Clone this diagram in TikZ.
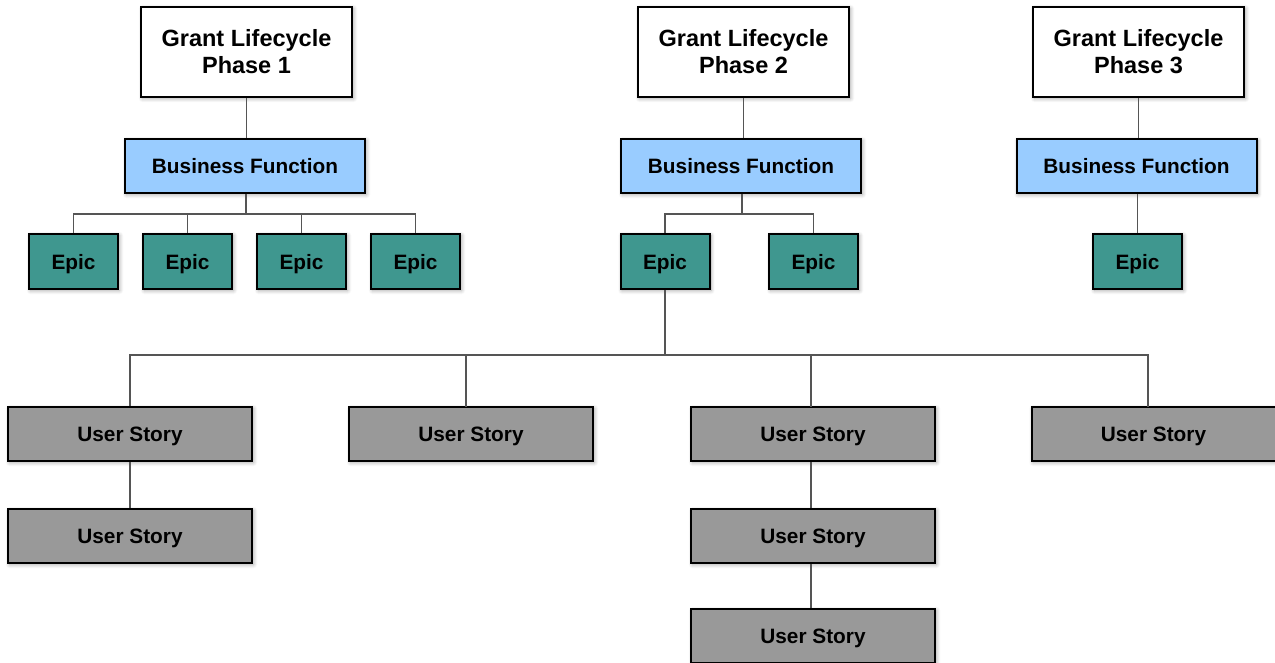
\documentclass[tikz,border=0pt]{standalone}
\usepackage{fontspec}
\setmainfont{Liberation Sans}
\usetikzlibrary{shadows.blur}
\definecolor{bfblue}{HTML}{99CCFF}
\definecolor{epicteal}{HTML}{3F978F}
\definecolor{storygray}{HTML}{999999}
\definecolor{linegray}{HTML}{555555}
\begin{document}
\begin{tikzpicture}[x=1pt,y=-1pt,
  box/.style={draw=black, line width=2pt, inner sep=0pt, align=center,
    font=\fontsize{20.8}{26}\selectfont\bfseries,
    blur shadow={shadow xshift=1.5pt, shadow yshift=-1.5pt, shadow blur radius=4pt, shadow blur steps=8, shadow opacity=35}},
  phasebox/.style={box, fill=white, minimum width=211pt, minimum height=90pt,
    font=\fontsize{23.5}{27}\selectfont\bfseries},
  onebox/.style={box, text depth=0pt},
  bfbox/.style={onebox, fill=bfblue, minimum width=240pt, minimum height=54pt},
  epicbox/.style={onebox, fill=epicteal, minimum width=89pt, minimum height=55pt},
  storybox/.style={onebox, fill=storygray, minimum width=244pt, minimum height=54pt},
  conn/.style={draw=linegray, line width=1.1pt}]
\useasboundingbox (0,0) rectangle (1275,663);
\clip (0,0) rectangle (1275,663);
% phases
\node[phasebox] (p1) at (246.5,52) {Grant Lifecycle\\Phase 1};
\node[phasebox] (p2) at (743.5,52) {Grant Lifecycle\\Phase 2};
\node[phasebox] (p3) at (1138.5,52) {Grant Lifecycle\\Phase 3};
% business functions
\node[bfbox] (b1) at (245,166) {Business Function};
\node[bfbox] (b2) at (741,166) {Business Function};
\node[bfbox] (b3) at (1136.5,166) {Business Function};
% epics
\node[epicbox] (e11) at (73.5,261.5) {Epic};
\node[epicbox] (e12) at (187.5,261.5) {Epic};
\node[epicbox] (e13) at (301.5,261.5) {Epic};
\node[epicbox] (e14) at (415.5,261.5) {Epic};
\node[epicbox] (e21) at (665,261.5) {Epic};
\node[epicbox] (e22) at (813.5,261.5) {Epic};
\node[epicbox] (e31) at (1137.5,261.5) {Epic};
% stories
\node[storybox] (s1) at (130,434) {User Story};
\node[storybox] (s2) at (471,434) {User Story};
\node[storybox] (s3) at (813,434) {User Story};
\node[storybox] (s4) at (1153.5,434) {User Story};
\node[storybox] (s1b) at (130,536) {User Story};
\node[storybox] (s3b) at (813,536) {User Story};
\node[storybox] (s3c) at (813,636) {User Story};
% bus coordinates
\coordinate (bus1) at (246,214);
\coordinate (bus2) at (742,214);
\coordinate (bus3) at (665,355);
% connectors
\draw[conn] (p1.south) -- (b1.north -| p1.south);
\draw[conn] (p2.south) -- (b2.north -| p2.south);
\draw[conn] (p3.south) -- (b3.north -| p3.south);
\draw[conn] (b1.south -| bus1) -- (bus1);
\draw[conn] (e11.north) |- (bus1) -| (e14.north);
\draw[conn] (e12.north) -- (e12.north |- bus1);
\draw[conn] (e13.north) -- (e13.north |- bus1);
\draw[conn] (b2.south -| bus2) -- (bus2);
\draw[conn] (e21.north) |- (bus2) -| (e22.north);
\draw[conn] (b3.south -| e31.north) -- (e31.north);
\draw[conn] (e21.south) -- (bus3);
\draw[conn] (s1.north) |- (bus3);
\draw[conn] (bus3) -| (1148,407);
\draw[conn] (466,355) -- (466,407);
\draw[conn] (811,355) -- (811,407);
\draw[conn] (s1.south) -- (s1b.north);
\draw[conn] (s3.south -| 811,0) -- (s3b.north -| 811,0);
\draw[conn] (s3b.south -| 811,0) -- (s3c.north -| 811,0);
\end{tikzpicture}
\end{document}
